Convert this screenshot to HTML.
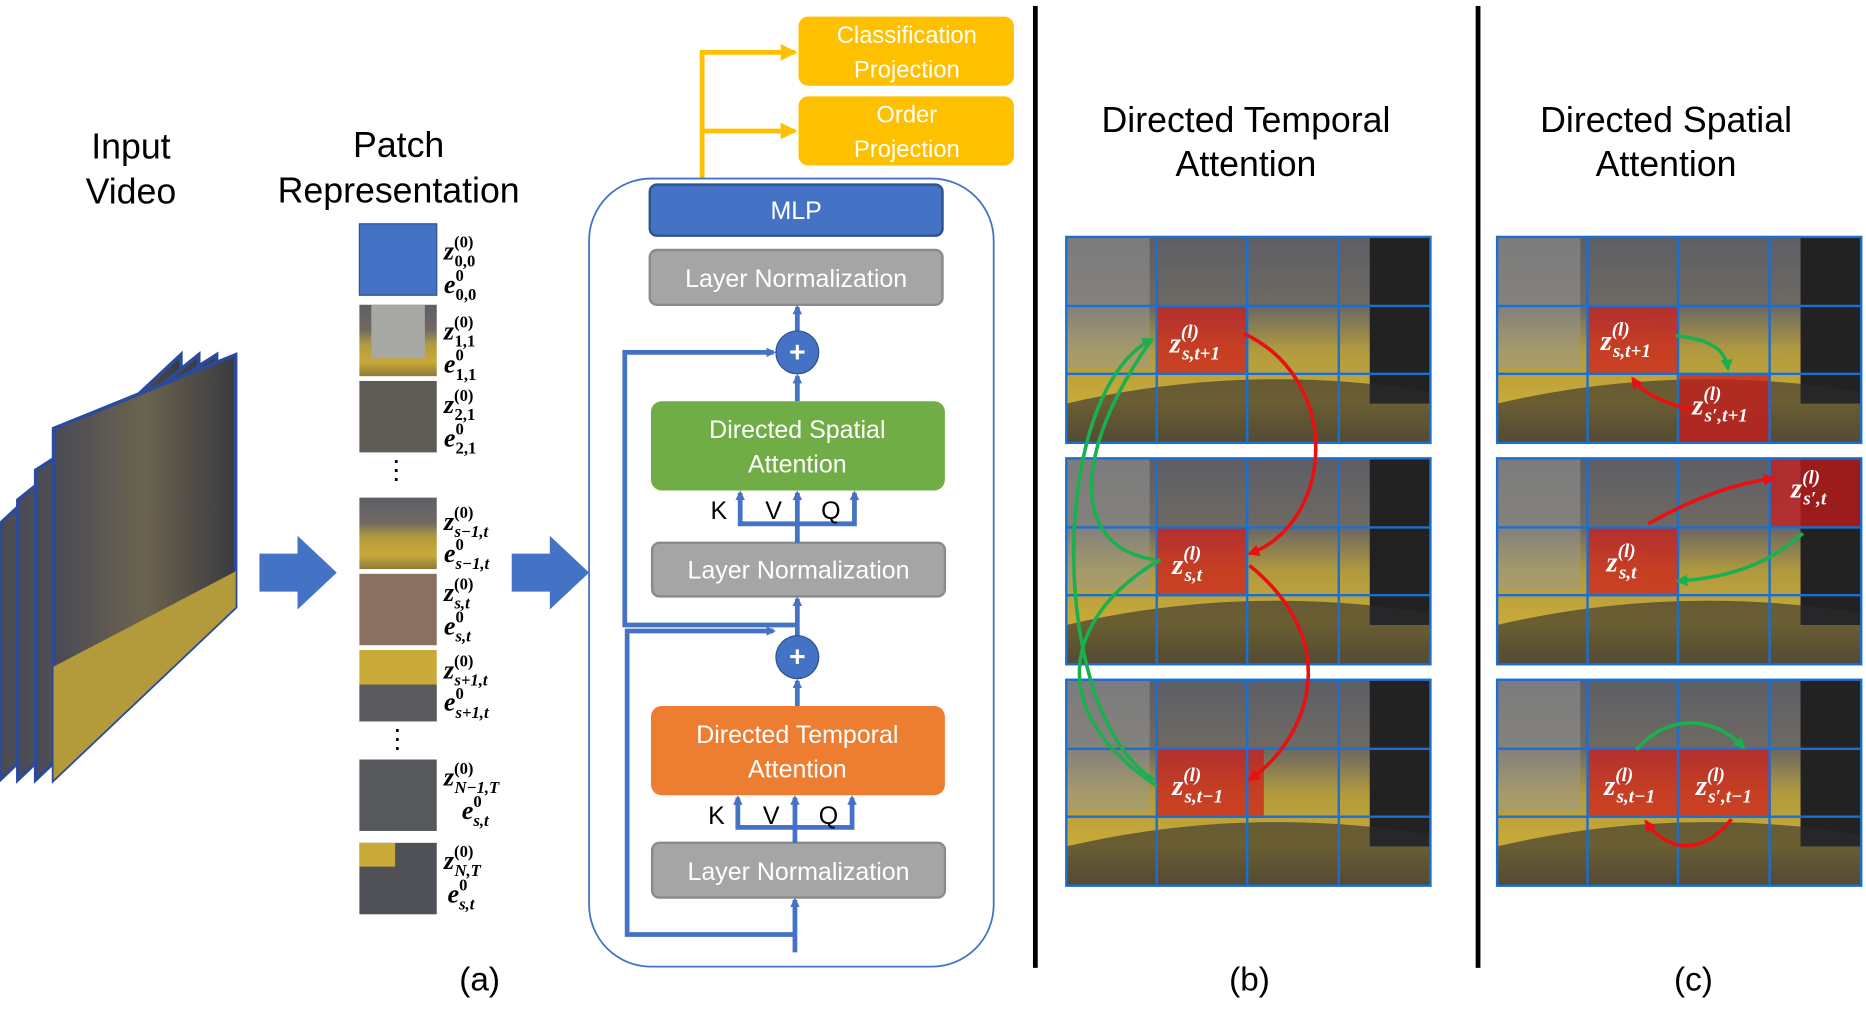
<!DOCTYPE html>
<html><head><meta charset="utf-8"><style>html,body{margin:0;padding:0;background:#fff}svg{display:block}</style></head>
<body>
<svg width="1866" height="1025" viewBox="0 0 1568 861" preserveAspectRatio="none" xmlns="http://www.w3.org/2000/svg" font-family="Liberation Sans, sans-serif">
<defs>
<linearGradient id="sc" x1="0" y1="0" x2="0" y2="1">
<stop offset="0" stop-color="#5d5e66"/><stop offset="0.35" stop-color="#6f6a62"/><stop offset="0.55" stop-color="#b19a3e"/><stop offset="0.8" stop-color="#c9aa38"/><stop offset="1" stop-color="#8d7a3a"/></linearGradient>
<linearGradient id="vd" x1="0" y1="0" x2="1" y2="0">
<stop offset="0" stop-color="#4a4a55"/><stop offset="0.5" stop-color="#6b6350"/><stop offset="1" stop-color="#3a3a40"/></linearGradient>
<marker id="ab" markerWidth="8" markerHeight="8" refX="6" refY="4" orient="auto" markerUnits="userSpaceOnUse"><path d="M0,0 L8,4 L0,8z" fill="#4472c4"/></marker>
<marker id="ay" markerWidth="14" markerHeight="14" refX="12" refY="7" orient="auto" markerUnits="userSpaceOnUse"><path d="M0,0 L14,7 L0,14z" fill="#ffc000"/></marker>
<marker id="ag" markerWidth="10" markerHeight="10" refX="8" refY="5" orient="auto" markerUnits="userSpaceOnUse"><path d="M0,0 L10,5 L0,10z" fill="#1ab04f"/></marker>
<marker id="ar" markerWidth="10" markerHeight="10" refX="8" refY="5" orient="auto" markerUnits="userSpaceOnUse"><path d="M0,0 L10,5 L0,10z" fill="#e81010"/></marker>
<g id="img"><rect width="306" height="173" fill="url(#sc)"/><rect x="0" y="0" width="70" height="110" fill="#9a9a96" opacity="0.5"/><rect x="255" y="0" width="51" height="140" fill="#222"/><path d="M0,140 Q150,105 306,130 L306,173 L0,173z" fill="#2c2c30" opacity="0.6"/></g>
<g id="grid" fill="none" stroke="#1a6fd0" stroke-width="2"><rect width="306" height="173"/><path d="M76,0V173M152,0V173M229,0V173M0,58H306M0,115H306"/></g>
</defs>

<text x="110" y="133" font-size="30" text-anchor="middle">Input</text>
<text x="110" y="171" font-size="30" text-anchor="middle">Video</text>
<g stroke="#2c4a9a" stroke-width="3">
<polygon points="0,440 152,298 152,510 0,655" fill="url(#vd)"/>
<polygon points="15,420 167,298 167,510 15,655" fill="url(#vd)"/>
<polygon points="30,395 182,298 182,510 30,655" fill="url(#vd)"/>
<polygon points="45,360 198,298 198,510 45,655" fill="url(#vd)"/>
</g>
<polygon points="45,560 198,480 198,510 45,655" fill="#b39a3a"/>
<polygon points="218,465 250,465 250,450 283,481 250,512 250,497 218,497" fill="#4472c4"/>
<polygon points="430,465 462,465 462,450 495,481 462,512 462,497 430,497" fill="#4472c4"/>

<text x="335" y="132" font-size="30" text-anchor="middle">Patch</text>
<text x="335" y="170" font-size="30" text-anchor="middle">Representation</text>
<rect x="302" y="188" width="65" height="60" fill="#4472c4" stroke="#2f528f"/>
<rect x="302" y="256" width="65" height="60" fill="url(#sc)"/><rect x="312" y="256" width="45" height="45" fill="#a8a8a4"/>
<rect x="302" y="320" width="65" height="60" fill="#5f5c58"/>
<rect x="302" y="418" width="65" height="60" fill="url(#sc)"/>
<rect x="302" y="482" width="65" height="60" fill="#8a7060"/>
<rect x="302" y="546" width="65" height="60" fill="#c9aa38"/><rect x="302" y="575" width="65" height="31" fill="#5a5a5e"/>
<rect x="302" y="638" width="65" height="60" fill="#56585c"/>
<rect x="302" y="708" width="65" height="60" fill="#4f5156"/><rect x="302" y="708" width="30" height="20" fill="#c9aa38"/>
<text x="333" y="402" font-size="22" text-anchor="middle">⋮</text>
<text x="334" y="628" font-size="22" text-anchor="middle">⋮</text>
<g font-family="Liberation Serif, serif" font-weight="bold" font-size="22" font-style="italic">
<text x="373" y="218">z<tspan font-size="14" font-style="normal" dy="-10">(0)</tspan><tspan font-size="14" font-style="normal" dx="-16" dy="16">0,0</tspan></text>
<text x="373" y="246">e<tspan font-size="14" font-style="normal" dy="-10">0</tspan><tspan font-size="14" font-style="normal" dx="-7" dy="16">0,0</tspan></text>
<text x="373" y="285">z<tspan font-size="14" font-style="normal" dy="-10">(0)</tspan><tspan font-size="14" font-style="normal" dx="-16" dy="16">1,1</tspan></text>
<text x="373" y="313">e<tspan font-size="14" font-style="normal" dy="-10">0</tspan><tspan font-size="14" font-style="normal" dx="-7" dy="16">1,1</tspan></text>
<text x="373" y="347">z<tspan font-size="14" font-style="normal" dy="-10">(0)</tspan><tspan font-size="14" font-style="normal" dx="-16" dy="16">2,1</tspan></text>
<text x="373" y="375">e<tspan font-size="14" font-style="normal" dy="-10">0</tspan><tspan font-size="14" font-style="normal" dx="-7" dy="16">2,1</tspan></text>
<text x="373" y="445">z<tspan font-size="14" font-style="normal" dy="-10">(0)</tspan><tspan font-size="14" dx="-16" dy="16">s−1,t</tspan></text>
<text x="373" y="472">e<tspan font-size="14" font-style="normal" dy="-10">0</tspan><tspan font-size="14" dx="-7" dy="16">s−1,t</tspan></text>
<text x="373" y="505">z<tspan font-size="14" font-style="normal" dy="-10">(0)</tspan><tspan font-size="14" dx="-16" dy="16">s,t</tspan></text>
<text x="373" y="533">e<tspan font-size="14" font-style="normal" dy="-10">0</tspan><tspan font-size="14" dx="-7" dy="16">s,t</tspan></text>
<text x="373" y="570">z<tspan font-size="14" font-style="normal" dy="-10">(0)</tspan><tspan font-size="14" dx="-16" dy="16">s+1,t</tspan></text>
<text x="373" y="597">e<tspan font-size="14" font-style="normal" dy="-10">0</tspan><tspan font-size="14" dx="-7" dy="16">s+1,t</tspan></text>
<text x="373" y="660">z<tspan font-size="14" font-style="normal" dy="-10">(0)</tspan><tspan font-size="14" dx="-16" dy="16">N−1,T</tspan></text>
<text x="388" y="688">e<tspan font-size="14" font-style="normal" dy="-10">0</tspan><tspan font-size="14" dx="-7" dy="16">s,t</tspan></text>
<text x="373" y="730">z<tspan font-size="14" font-style="normal" dy="-10">(0)</tspan><tspan font-size="14" dx="-16" dy="16">N,T</tspan></text>
<text x="376" y="758">e<tspan font-size="14" font-style="normal" dy="-10">0</tspan><tspan font-size="14" dx="-7" dy="16">s,t</tspan></text>
</g>

<path d="M590,150 V44 H668" fill="none" stroke="#ffc000" stroke-width="4" marker-end="url(#ay)"/>
<path d="M590,110 H668" fill="none" stroke="#ffc000" stroke-width="4" marker-end="url(#ay)"/>
<rect x="671" y="14" width="181" height="58" rx="8" fill="#ffc000"/>
<rect x="671" y="81" width="181" height="58" rx="8" fill="#ffc000"/>
<g fill="#fff" font-size="20" text-anchor="middle">
<text x="762" y="36">Classification</text><text x="762" y="65">Projection</text>
<text x="762" y="103">Order</text><text x="762" y="132">Projection</text></g>

<rect x="495" y="150" width="340" height="662" rx="52" fill="none" stroke="#4472c4" stroke-width="1.5"/>
<rect x="546" y="155" width="246" height="43" rx="6" fill="#4472c4" stroke="#2f528f" stroke-width="2"/>
<text x="669" y="184" fill="#fff" font-size="21" text-anchor="middle">MLP</text>
<g fill="#a5a5a5" stroke="#8a8a8a" stroke-width="2">
<rect x="546" y="210" width="246" height="46" rx="6"/>
<rect x="548" y="456" width="246" height="45" rx="6"/>
<rect x="548" y="708" width="246" height="46" rx="6"/></g>
<g fill="#fff" font-size="21" text-anchor="middle">
<text x="669" y="241">Layer Normalization</text>
<text x="671" y="486">Layer Normalization</text>
<text x="671" y="739">Layer Normalization</text></g>
<rect x="547" y="337" width="247" height="75" rx="9" fill="#70ad47"/>
<text x="670" y="368" fill="#fff" font-size="21" text-anchor="middle">Directed Spatial</text>
<text x="670" y="397" fill="#fff" font-size="21" text-anchor="middle">Attention</text>
<rect x="547" y="593" width="247" height="75" rx="9" fill="#ed7d31"/>
<text x="670" y="624" fill="#fff" font-size="21" text-anchor="middle">Directed Temporal</text>
<text x="670" y="653" fill="#fff" font-size="21" text-anchor="middle">Attention</text>
<g stroke="#4472c4" stroke-width="4" fill="none" marker-end="url(#ab)">
<path d="M670,278 V258"/><path d="M670,337 V316"/>
<path d="M670,456 V414"/><path d="M670,440 H622 V414"/><path d="M670,440 H718 V414"/>
<path d="M670,534 V503"/><path d="M670,593 V572"/>
<path d="M668,708 V670"/><path d="M668,695 H620 V670"/><path d="M668,695 H716 V670"/>
<path d="M668,800 V756"/>
<path d="M668,785 H527 V530 H650"/>
<path d="M670,525 H525 V296 H650"/>
</g>
<circle cx="670" cy="296" r="18" fill="#4472c4" stroke="#2f528f"/>
<text x="670" y="304" fill="#fff" font-size="24" text-anchor="middle" font-weight="bold">+</text>
<circle cx="670" cy="552" r="18" fill="#4472c4" stroke="#2f528f"/>
<text x="670" y="560" fill="#fff" font-size="24" text-anchor="middle" font-weight="bold">+</text>
<g font-size="21"><text x="597" y="436">K</text><text x="643" y="436">V</text><text x="690" y="436">Q</text>
<text x="595" y="692">K</text><text x="641" y="692">V</text><text x="688" y="692">Q</text></g>

<text x="403" y="832" font-size="28" text-anchor="middle">(a)</text>
<text x="1050" y="832" font-size="28" text-anchor="middle">(b)</text>
<text x="1423" y="832" font-size="28" text-anchor="middle">(c)</text>

<rect x="868" y="5" width="4" height="808" fill="#000"/>
<rect x="1240" y="5" width="4" height="808" fill="#000"/>

<text x="1047" y="111" font-size="30" text-anchor="middle">Directed Temporal</text>
<text x="1047" y="148" font-size="30" text-anchor="middle">Attention</text>
<text x="1400" y="111" font-size="30" text-anchor="middle">Directed Spatial</text>
<text x="1400" y="148" font-size="30" text-anchor="middle">Attention</text>

<use href="#img" x="896" y="199"/><use href="#img" x="896" y="385"/><use href="#img" x="896" y="571"/>
<g fill="#d01818" opacity="0.7">
<rect x="972" y="257" width="76" height="58"/><rect x="972" y="443" width="76" height="58"/><rect x="972" y="629" width="90" height="58"/></g>
<use href="#grid" x="896" y="199"/><use href="#grid" x="896" y="385"/><use href="#grid" x="896" y="571"/>
<use href="#img" x="1258" y="199"/><use href="#img" x="1258" y="385"/><use href="#img" x="1258" y="571"/>
<g fill="#d01818" opacity="0.7">
<rect x="1334" y="257" width="77" height="58"/><rect x="1411" y="315" width="77" height="57"/>
<rect x="1334" y="443" width="77" height="58"/><rect x="1488" y="385" width="76" height="58"/>
<rect x="1334" y="629" width="154" height="58"/></g>
<use href="#grid" x="1258" y="199"/><use href="#grid" x="1258" y="385"/><use href="#grid" x="1258" y="571"/>

<g fill="none" stroke-width="3">
<path d="M970,655 C880,600 880,330 968,285" stroke="#1ab04f" marker-end="url(#ag)"/>
<path d="M968,285 C900,380 900,460 970,470" stroke="#1ab04f"/>
<path d="M975,470 C890,520 880,600 972,660" stroke="#1ab04f"/>
<path d="M1045,280 C1130,320 1120,440 1050,465" stroke="#e81010" marker-end="url(#ar)"/>
<path d="M1050,475 C1130,540 1100,620 1050,655" stroke="#e81010" marker-end="url(#ar)"/>
<path d="M1408,282 C1440,285 1450,295 1452,310" stroke="#1ab04f" marker-end="url(#ag)"/>
<path d="M1425,345 C1400,340 1380,330 1372,318" stroke="#e81010" marker-end="url(#ar)"/>
<path d="M1385,440 C1420,420 1460,405 1490,402" stroke="#e81010" marker-end="url(#ar)"/>
<path d="M1515,448 C1490,470 1460,485 1410,488" stroke="#1ab04f" marker-end="url(#ag)"/>
<path d="M1375,630 C1400,600 1440,600 1465,628" stroke="#1ab04f" marker-end="url(#ag)"/>
<path d="M1455,688 C1430,720 1400,715 1383,690" stroke="#e81010" marker-end="url(#ar)"/>
</g>

<g fill="#fff" font-family="Liberation Serif, serif" font-weight="bold" font-size="24" font-style="italic">
<text x="983" y="296">z<tspan font-size="16" dy="-12">(l)</tspan><tspan font-size="16" dx="-14" dy="18">s,t+1</tspan></text>
<text x="985" y="482">z<tspan font-size="16" dy="-12">(l)</tspan><tspan font-size="16" dx="-14" dy="18">s,t</tspan></text>
<text x="985" y="668">z<tspan font-size="16" dy="-12">(l)</tspan><tspan font-size="16" dx="-14" dy="18">s,t−1</tspan></text>
<text x="1345" y="294">z<tspan font-size="16" dy="-12">(l)</tspan><tspan font-size="16" dx="-14" dy="18">s,t+1</tspan></text>
<text x="1422" y="348">z<tspan font-size="16" dy="-12">(l)</tspan><tspan font-size="16" dx="-14" dy="18">s′,t+1</tspan></text>
<text x="1350" y="480">z<tspan font-size="16" dy="-12">(l)</tspan><tspan font-size="16" dx="-14" dy="18">s,t</tspan></text>
<text x="1505" y="418">z<tspan font-size="16" dy="-12">(l)</tspan><tspan font-size="16" dx="-14" dy="18">s′,t</tspan></text>
<text x="1348" y="668">z<tspan font-size="16" dy="-12">(l)</tspan><tspan font-size="16" dx="-14" dy="18">s,t−1</tspan></text>
<text x="1425" y="668">z<tspan font-size="16" dy="-12">(l)</tspan><tspan font-size="16" dx="-14" dy="18">s′,t−1</tspan></text>
</g>
</svg>
</body></html>
